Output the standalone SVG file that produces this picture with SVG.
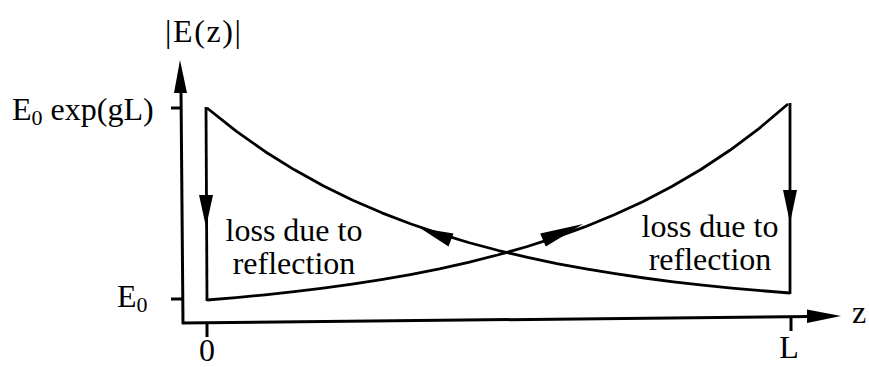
<svg xmlns="http://www.w3.org/2000/svg" width="869" height="367" viewBox="0 0 869 367">
<style>
.ln{fill:none;stroke:#000;stroke-width:2.8;stroke-linejoin:round;stroke-linecap:butt}
.ax{fill:none;stroke:#000;stroke-width:3}
.ah{fill:#000;stroke:none}
.t{font-family:"Liberation Serif","Times New Roman",serif;fill:#000;font-size:32px}
</style>
<rect width="869" height="367" fill="#fff"/>
<g id="axes">
<line class="ax" x1="183" y1="324" x2="181" y2="90"/>
<polygon class="ah" points="180,60 174,93 187,93"/>
<line class="ax" x1="182" y1="323" x2="812" y2="316.5"/>
<polygon class="ah" points="841,316 807,309.5 807,323"/>
<line class="ax" x1="171" y1="108" x2="181" y2="108"/>
<line class="ax" x1="171" y1="299" x2="183" y2="299"/>
<line class="ax" x1="207" y1="323" x2="207" y2="337"/>
<line class="ax" x1="791" y1="317" x2="791" y2="331"/>
</g>
<g id="labels">
<text class="t" x="165" y="42" font-size="28" textLength="76" lengthAdjust="spacing">|E(z)|</text>
<text class="t" x="12" y="120">E<tspan font-size="22" dy="5">0</tspan><tspan dy="-5"> exp(gL)</tspan></text>
<text class="t" x="117" y="307">E<tspan font-size="22" dy="5">0</tspan></text>
<text class="t" x="207" y="361" text-anchor="middle">0</text>
<text class="t" x="789" y="358" text-anchor="middle">L</text>
<text class="t" x="852" y="323" font-size="30">z</text>
</g>
<g id="connectors">
<line class="ln" x1="206" y1="107" x2="207" y2="301"/>
<polygon class="ah" points="206,227 199,195 213,195"/>
<line class="ln" x1="790" y1="103" x2="790" y2="294"/>
<polygon class="ah" points="790,223 783,190 797,190"/>
<polyline class="ln" points="207,300 236.05,297.54 265.1,294.77 294.15,291.63 323.2,288.09 352.25,284.1 381.3,279.6 410.35,274.52 439.4,268.78 468.45,262.3 497.5,255 526.55,246.75 555.6,237.44 584.65,226.93 613.7,215.07 642.75,201.69 671.8,186.58 700.85,169.53 729.9,150.29 758.95,128.56 788,104"/>
<polyline class="ln" points="207,108 236.15,131.18 265.3,151.7 294.45,169.85 323.6,185.94 352.75,200.2 381.9,212.84 411.05,224.03 440.2,233.95 469.35,242.74 498.5,250.52 527.65,257.42 556.8,263.53 585.95,268.95 615.1,273.74 644.25,278 673.4,281.77 702.55,285.1 731.7,288.06 760.85,290.67 790,293"/>
<polygon class="ah" points="420,228 453.5,233.5 448.5,246.5"/>
<polygon class="ah" points="583,224 545.8,246.4 540.2,233.6"/>
</g>
<g id="text-left">
<text class="t" x="294" y="241" text-anchor="middle">loss due to</text>
<text class="t" x="294" y="274" text-anchor="middle">reflection</text>
</g>
<g id="text-right">
<text class="t" x="710" y="237" text-anchor="middle">loss due to</text>
<text class="t" x="710" y="270" text-anchor="middle">reflection</text>
</g>
</svg>
